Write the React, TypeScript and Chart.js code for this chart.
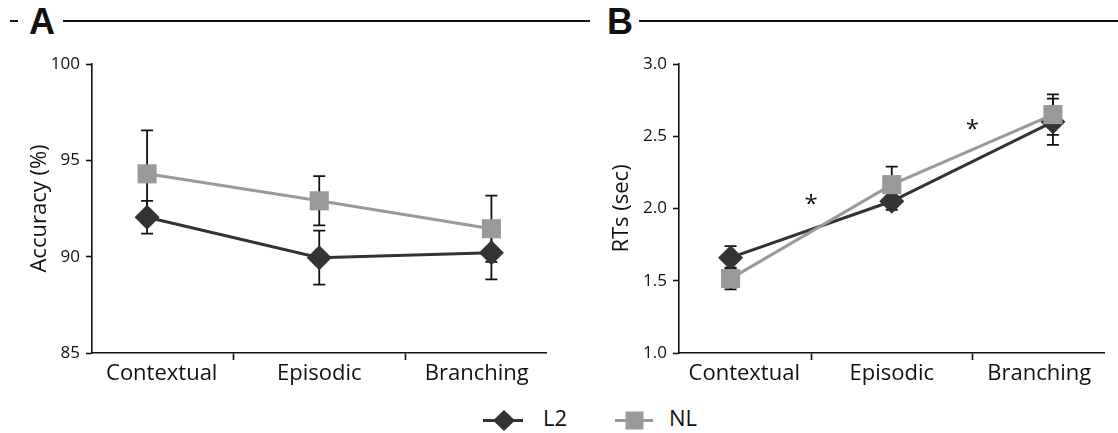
import React, { useEffect, useRef } from 'react';
import { Chart, registerables } from 'chart.js';
Chart.register(...registerables);

// ---------- data ----------
const categories = ['Contextual', 'Episodic', 'Branching'];
const categoryIndex = [0, 1, 2];
const boundaryTicks = [0.5, 1.5];

const accuracyL2 = [92.05, 89.95, 90.2];
const accuracyL2Err = [0.85, 1.4, 1.38];
const accuracyNL = [94.3, 92.9, 91.45];
const accuracyNLErr = [2.25, 1.28, 1.72];
const accuracyTicks = [85, 90, 95, 100];

const rtL2 = [1.66, 2.05, 2.6];
const rtL2Err = [0.08, 0.06, 0.16];
const rtNL = [1.515, 2.165, 2.65];
const rtNLErr = [0.075, 0.125, 0.14];
const rtTicks = [1.0, 1.5, 2.0, 2.5, 3.0];

const starX = [0.5, 1.5];
const starY = [2.08, 2.6];

const seriesNames = ['L2', 'NL'];
const DARK = '#333333';
const GRAY = '#999999';
const INK = '#111111';
const FONT = '"Open Sans", "Noto Sans", sans-serif';
// category labels sit slightly inward of the outer points (as in the original figure)
const LABEL_INSET = 0.085;

Chart.defaults.font.family = FONT;
Chart.defaults.color = INK;

const errorBarPlugin = {
  id: 'errorBars',
  beforeDatasetsDraw(chart: any) {
    const { ctx } = chart;
    const y = chart.scales.y;
    ctx.save();
    ctx.strokeStyle = INK;
    ctx.lineWidth = 1.8;
    chart.data.datasets.forEach((ds: any, i: number) => {
      const meta = chart.getDatasetMeta(i);
      meta.data.forEach((pt: any, j: number) => {
        const v = ds.data[j].y;
        const e = ds.errors[j];
        const top = y.getPixelForValue(v + e);
        const bot = y.getPixelForValue(v - e);
        ctx.beginPath();
        ctx.moveTo(pt.x, top);
        ctx.lineTo(pt.x, bot);
        ctx.moveTo(pt.x - 6, top);
        ctx.lineTo(pt.x + 6, top);
        ctx.moveTo(pt.x - 6, bot);
        ctx.lineTo(pt.x + 6, bot);
        ctx.stroke();
      });
    });
    ctx.restore();
  },
};

const starPlugin = {
  id: 'stars',
  afterDatasetsDraw(chart: any, _args: any, opts: any) {
    if (!opts || !opts.xs) return;
    const { ctx } = chart;
    const size = 24;
    ctx.save();
    ctx.fillStyle = INK;
    ctx.font = `${size}px ${FONT}`;
    ctx.textAlign = 'center';
    ctx.textBaseline = 'alphabetic';
    opts.xs.forEach((xv: number, i: number) => {
      const px = chart.scales.x.getPixelForValue(xv);
      const py = chart.scales.y.getPixelForValue(opts.ys[i]);
      ctx.fillText('*', px, py + size * 0.62);
    });
    ctx.restore();
  },
};

const labelTickValues = categoryIndex.map(
  (c) => c + LABEL_INSET * (1 - c)
);

function makeConfig(
  l2: number[], l2Err: number[], nl: number[], nlErr: number[],
  yTicks: number[], yTitle: string, decimals: number,
  yWidth: number, titlePad: number, padRight: number, stars: any
): any {
  const toPts = (arr: number[]) => arr.map((v, i) => ({ x: categoryIndex[i], y: v }));
  const isBoundary = (v: number) => boundaryTicks.some((b) => Math.abs(b - v) < 1e-6);
  return {
    type: 'line',
    data: {
      datasets: [
        {
          label: seriesNames[1],
          data: toPts(nl),
          errors: nlErr,
          borderColor: GRAY,
          backgroundColor: GRAY,
          borderWidth: 3,
          pointStyle: 'rect',
          pointRadius: 13.5,
          pointBorderWidth: 0,
          pointBackgroundColor: GRAY,
          tension: 0,
          order: 0,
        },
        {
          label: seriesNames[0],
          data: toPts(l2),
          errors: l2Err,
          borderColor: DARK,
          backgroundColor: DARK,
          borderWidth: 3,
          pointStyle: 'rectRot',
          pointRadius: 12.5,
          pointBorderWidth: 0,
          pointBackgroundColor: DARK,
          tension: 0,
          order: 1,
        },
      ],
    },
    options: {
      responsive: false,
      animation: false,
      clip: false,
      layout: { padding: { left: 0, top: 64, right: padRight, bottom: 0 } },
      plugins: {
        legend: { display: false },
        tooltip: { enabled: false },
        stars: stars,
      },
      scales: {
        x: {
          type: 'linear',
          min: -0.32,
          max: 2.32,
          afterBuildTicks(scale: any) {
            scale.ticks = [...labelTickValues, ...boundaryTicks]
              .sort((a, b) => a - b)
              .map((value) => ({ value }));
          },
          afterFit(scale: any) {
            scale.height = 47;
          },
          ticks: {
            autoSkip: false,
            maxRotation: 0,
            padding: 1,
            font: { size: 22 },
            color: INK,
            callback: (v: number) => (isBoundary(v) ? '' : categories[Math.round(v)]),
          },
          grid: {
            display: true,
            drawOnChartArea: false,
            drawTicks: true,
            tickLength: 7,
            tickWidth: 1.6,
            tickColor: (ctx: any) =>
              ctx.tick && isBoundary(ctx.tick.value) ? INK : 'rgba(0,0,0,0)',
          },
          border: { display: true, color: INK, width: 1.6 },
        },
        y: {
          type: 'linear',
          min: yTicks[0],
          max: yTicks[yTicks.length - 1],
          afterBuildTicks(scale: any) {
            scale.ticks = yTicks.map((value) => ({ value }));
          },
          afterFit(scale: any) {
            scale.width = yWidth;
          },
          ticks: {
            padding: 6,
            font: { size: 17 },
            color: INK,
            callback: (v: number) => v.toFixed(decimals),
          },
          grid: {
            display: true,
            drawOnChartArea: false,
            drawTicks: true,
            tickLength: 6,
            tickWidth: 1.6,
            tickColor: INK,
          },
          border: { display: true, color: INK, width: 1.6 },
          title: {
            display: true,
            text: yTitle,
            font: { size: 22 },
            color: INK,
            padding: { top: titlePad, bottom: 0 },
          },
        },
      },
    },
    plugins: [errorBarPlugin, starPlugin],
  };
}

function ChartCanvas({ config, width, height, left }: any) {
  const ref = useRef<HTMLCanvasElement | null>(null);
  useEffect(() => {
    if (!ref.current) return;
    const chart = new Chart(ref.current, config);
    return () => chart.destroy();
  }, [config]);
  return (
    <canvas
      ref={ref}
      width={width}
      height={height}
      style={{ position: 'absolute', left, top: 0, width, height }}
    />
  );
}

const configA = makeConfig(
  accuracyL2, accuracyL2Err, accuracyNL, accuracyNLErr,
  accuracyTicks, 'Accuracy (%)', 0, 92, 27, 13, {}
);
const configB = makeConfig(
  rtL2, rtL2Err, rtNL, rtNLErr,
  rtTicks, 'RTs (sec)', 1, 119, 49, 8, { xs: starX, ys: starY }
);

const rule = (left: number, width: number): React.CSSProperties => ({
  position: 'absolute', left, top: 20, width, height: 2, background: INK,
});
const letter = (left: number): React.CSSProperties => ({
  position: 'absolute', left, top: 4, fontFamily: '"Liberation Sans", Arial, sans-serif',
  fontWeight: 'bold', fontSize: 36, lineHeight: '36px', color: INK,
});
const legendText = (left: number): React.CSSProperties => ({
  position: 'absolute', left, top: 403, fontFamily: FONT, fontSize: 22,
  lineHeight: '28px', color: INK,
});

export default function App() {
  return (
    <div style={{ position: 'absolute', left: 0, top: 0, width: 1118, height: 433, background: '#fff', overflow: 'hidden' }}>
      <div style={rule(10, 8)} />
      <div style={letter(29)}>A</div>
      <div style={rule(63, 527)} />
      <div style={letter(607)}>B</div>
      <div style={rule(639, 479)} />

      <ChartCanvas config={configA} width={560} height={400} left={0} />
      <ChartCanvas config={configB} width={558} height={400} left={560} />

      <svg style={{ position: 'absolute', left: 482, top: 408, width: 44, height: 26 }} width={44} height={26}>
        <line x1={1} y1={12.5} x2={41} y2={12.5} stroke={DARK} strokeWidth={3} />
        <polygon points="22,2 33,12.5 22,23 11,12.5" fill={DARK} />
      </svg>
      <div style={legendText(543)}>{seriesNames[0]}</div>
      <svg style={{ position: 'absolute', left: 613, top: 408, width: 44, height: 26 }} width={44} height={26}>
        <line x1={2} y1={12.5} x2={40} y2={12.5} stroke={GRAY} strokeWidth={3} />
        <rect x={12.5} y={3.5} width={18} height={18} fill={GRAY} />
      </svg>
      <div style={legendText(669)}>{seriesNames[1]}</div>
    </div>
  );
}
